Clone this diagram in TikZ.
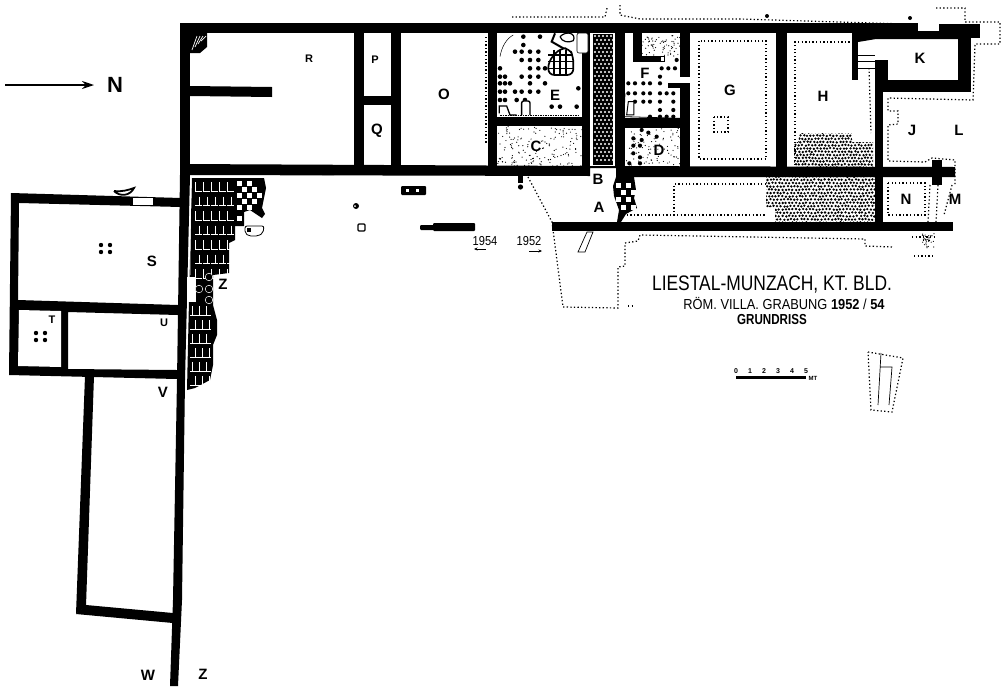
\documentclass[tikz,border=0pt]{standalone}
\usepackage{fontspec}
\setmainfont{Liberation Sans}
\usetikzlibrary{arrows.meta}
\begin{document}
\begin{tikzpicture}[
  x=1pt, y=-1pt,
  wall/.style={fill=black},
  dotline/.style={line width=1.2pt, dash pattern=on 1.3pt off 2.3pt},
  biglabel/.style={font=\bfseries\fontsize{15}{15}\selectfont, inner sep=0pt},
  smalllabel/.style={font=\bfseries\fontsize{11}{11}\selectfont, inner sep=0pt},
  titletext/.style={inner sep=0pt, transform shape}
]
\useasboundingbox (0,0) rectangle (1008,686);
\fill[white] (0,0) rectangle (1008,686);

% --- Stipple: rooms C, D, F ---
\pgfmathsetseed{17}
\begin{scope}
\clip (497,126) rectangle (583,168);
\foreach \n in {1,...,170} \fill ({497+86*rnd},{126+42*rnd}) circle[radius=0.6pt];
\end{scope}
\begin{scope}
\clip (625,128) rectangle (680,168);
\foreach \n in {1,...,90} \fill ({625+55*rnd},{128+40*rnd}) circle[radius=0.6pt];
\end{scope}
\begin{scope}
\clip (642,35) rectangle (680,56);
\foreach \n in {1,...,70} \fill ({642+38*rnd},{35+21*rnd}) circle[radius=0.6pt];
\end{scope}

% --- Pebble floors: H and below ---
\begin{scope}
\clip (794,142) -- (798,142) -- (800,133) -- (852,133) -- (852,142) -- (873,142) -- (873,167) -- (794,167) -- cycle;
\foreach \i in {0,...,25} \foreach \j in {0,...,11}
  \fill ({792+3.3*\i+1.6*mod(\j,2)+0.9*rnd},{132+3.2*\j+0.9*rnd}) circle[radius=1.3pt];
\end{scope}
\begin{scope}
\clip (766,177) -- (875,177) -- (875,222) -- (775,222) -- (775,207) -- (766,207) -- cycle;
\foreach \i in {0,...,33} \foreach \j in {0,...,14}
  \fill ({765+3.4*\i+1.7*mod(\j,2)+0.9*rnd},{176+3.3*\j+0.9*rnd}) circle[radius=1.3pt];
\end{scope}

% --- Walls: north wing ---
\fill[wall] (180,23) rectangle (918,33);
\fill[wall] (918,31) rectangle (939,33);
\fill[wall] (939,24) rectangle (980,38);
\fill[wall] (852,33) -- (958,33) -- (958,39) -- (876,39) -- (858,42) -- (852,42) -- cycle;
\fill[wall] (180,164) -- (590,166) -- (955,167) -- (955,177) -- (616,177) -- (616,168) -- (590,168) -- (590,176) -- (180,175) -- cycle;
\fill[wall] (180,23) rectangle (190,175);
\fill[wall] (190,86) -- (272,87) -- (272,97) -- (190,96) -- cycle;
\fill[wall] (354,33) rectangle (364,165);
\fill[wall] (364,96) rectangle (391,105);
\fill[wall] (391,33) rectangle (401,165);
\fill[wall] (488,33) rectangle (497,166);
\fill[wall] (497,117) rectangle (583,126);
\fill[wall] (582,33) rectangle (590,167);
\fill[wall] (615,33) rectangle (625,167);
\fill[wall] (625,118) rectangle (680,128);
\fill[wall] (633,33) rectangle (642,62);
\fill[wall] (633,56) rectangle (665,62);
\fill[wall] (680,33) rectangle (690,77);
\fill[wall] (680,83) rectangle (690,167);
\fill[wall] (668,83) rectangle (680,88);
\fill[wall] (776,33) rectangle (787,167);
\fill[wall] (852,33) rectangle (858,80);
\fill[wall] (875,60) rectangle (888,80);
\fill[wall] (875,60) rectangle (883,222);
\fill[wall] (875,80) rectangle (971,92);
\fill[wall] (958,33) rectangle (971,92);
\fill[wall] (552,222) rectangle (953,231);
\fill[wall] (932,160) rectangle (942,185);

% --- Walls: south wing ---
\fill[wall] (180,175) -- (190,175) -- (185,380) -- (182,600) -- (178,686) -- (170,686) -- (173,600) -- (177,380) -- cycle;
\fill[wall] (11,193) -- (181,198) -- (181,207) -- (19,203) -- (18,300) -- (178,305) -- (178,315) -- (68,312) -- (68,369) -- (177,370) -- (177,379) -- (9,375) -- cycle;
\fill[white] (19,310) -- (61,311) -- (61,367) -- (18,366) -- cycle;
\fill[wall] (85,376) -- (94,376) -- (86,606) -- (76,614) -- cycle;
\fill[wall] (86,605) -- (173,613) -- (173,623) -- (76,614) -- cycle;
\fill[white] (133,198) rectangle (153,205);

% --- Mosaic corridor ---
\fill[wall] (593,34) rectangle (613,165);
\foreach \i in {0,...,4} \foreach \j in {0,...,31}
  \fill[white] ({595+4*\i+2*mod(\j,2)},{36+4*\j}) circle[radius=1.1pt];

% --- Mosaic Z ---
\fill[wall] (192,178) -- (235,178) -- (235,240) -- (229,243) -- (229,273) -- (213,275) -- (213,305) -- (217,320) -- (217,335) -- (213,345) -- (213,365) -- (210,380) -- (195,388) -- (187,390) -- (189,300) -- cycle;
\draw[white, line width=0.5pt] (191,178) -- (190,275);
\foreach \j in {0,...,6}
  \foreach \i in {0,...,4} {
    \draw[white, line width=0.6pt] ({195+8*\i+4*mod(\j,2)},{182+14.5*\j}) -- ++(0,9);
    \draw[white, line width=0.6pt] ({195+8*\i},{191+14.5*\j}) -- ++(7,0);
  }
\foreach \j in {0,...,5}
  \foreach \i in {0,...,2} {
    \draw[white, line width=0.6pt] ({192+7*\i+3*mod(\j,2)},{306+14*\j}) -- ++(0,9);
    \draw[white, line width=0.6pt] ({190+7*\i},{315+14*\j}) -- ++(7,0);
  }
\fill[white] (187,277) rectangle (196,302);
\foreach \x/\y in {209/277,209/289,209/300,199/289}
  \filldraw[fill=black, draw=white, line width=0.5pt] (\x,\y) circle[radius=3.8pt];

% --- Checker floors ---
\fill[wall] (235,178) -- (264,178) -- (266,188) -- (262,208) -- (265,214) -- (262,218) -- (250,210) -- (244,212) -- (244,226) -- (235,226) -- cycle;
\foreach \x/\y in {237/181,247/181,242/187,252/187,237/193,247/193,257/193,242/199,252/199,237/205,247/205,237/216}
  \fill[white] (\x,\y) rectangle ++(5,5);
\fill[wall] (616,177) -- (634,177) -- (636,190) -- (634,198) -- (637,208) -- (626,214) -- (621,222) -- (617,222) -- (619,210) -- (614,196) -- (613,186) -- cycle;
\foreach \x/\y in {616/183,626/183,621/190,631/190,616/197,626/197,621/205,631/205}
  \fill[white] (\x,\y) rectangle ++(5,5);

% --- Floor dots: E ---
\begin{scope}[shift={(480,0)}, x=0.3333pt, y=-0.3333pt]
\foreach \x/\y in {130/110,180/110,130/135,105/155,125/155,150/155,175/155,125/180,150/180,175/180,
  60/205,150/205,175/205,195/205,60/230,75/230,125/230,150/230,175/230,60/250,75/250,90/250,150/250,195/250,
  60/275,75/275,105/275,125/275,150/275,175/275,60/300,75/300,110/300,135/300,215/320,240/320,290/320,295/265}
  \fill (\x,\y) circle[radius=2.3pt];
\draw[line width=0.5pt] (60,170) .. controls (65,140) and (80,115) .. (100,105);
\draw[line width=1.4pt, fill=white, rounded corners=2pt] (125,345) -- (125,303) -- (150,303) -- (150,345);
\draw[line width=1.3pt] (58,340) -- (58,318) -- (80,318) -- (90,345) -- (110,345);
\draw[line width=1pt, dash pattern=on 1.5pt off 1pt] (60,347) -- (300,347);
% --- Hypocaust: E ---
\draw[line width=1.7pt, rounded corners=6pt] (205,225) -- (205,185) -- (240,145) -- (268,145) -- (280,170) -- (280,225) -- cycle;
\foreach \n in {222,240,258} \draw[line width=1.2pt] (\n,150) -- (\n,225);
\foreach \n in {165,185,205} \draw[line width=1.2pt] (205,\n) -- (280,\n);
\draw[line width=2pt] (225,100) -- (215,125) -- (250,145);
\draw[line width=1.2pt] (240,110) .. controls (260,90) and (290,100) .. (280,122) .. controls (265,130) and (245,125) .. (240,110);
% --- Floor dots: F, D ---
\foreach \x/\y in {545/205,565/205,585/205,590/180,540/230,445/250,465/250,490/250,510/250,540/250,
  445/280,465/280,490/280,510/280,540/280,560/280,580/280,465/305,490/305,510/305,540/305,580/305,
  540/330,580/330,510/350,540/350,560/350,580/350}
  \fill (\x,\y) circle[radius=2.1pt];
\foreach \x/\y in {485/390,505/398,460/415,485/420,530/410,460/437,480/437,460/460,480/472,448/490,480/490}
  \fill (\x,\y) circle[radius=2.1pt];
\draw[line width=1pt, fill=white] (440,345) -- (445,305) -- (462,305) -- (462,345) -- cycle;
\draw[line width=0.8pt] (435,280) -- (432,350) -- (600,355);
\end{scope}
\filldraw[fill=white, draw=black, line width=0.6pt, rounded corners=2pt] (577,33) rectangle (588,53);
\fill[white] (661,57) rectangle (664,61);

% --- Dots: S, T ---
\foreach \x/\y in {101/245,110/245,101/252,110/252,36/333,45/333,36/340,45/340}
  \fill (\x,\y) circle[radius=2.2pt];

% --- Corner rubble and loose finds ---
\fill (190,33) -- (207,33) -- (207,47) -- (200,53) -- (190,53) -- cycle;
\foreach \n in {0,3,6,9}
  \draw[white, line width=0.7pt] (192+\n,50-\n) -- (197+\n,36);
\draw[line width=1.8pt] (114,191) .. controls (120,197) and (130,196) .. (134,188) .. controls (128,190) and (122,192) .. (114,191);
\fill (322,175) arc[start angle=180, end angle=360, x radius=6, y radius=5] -- cycle;
\fill (518,175) rectangle (523,183);
\fill (520.5,187) circle[radius=2.6pt];
\fill[rounded corners=1pt] (401,186) rectangle (426,195);
\fill[white] (406,189) rectangle (409,192);
\fill[white] (416,189) rectangle (419,192);
\fill (356,206) circle[radius=3pt];
\fill[white] (355,206) circle[radius=1pt];
\draw[line width=1.2pt, rounded corners=1pt] (358,224) rectangle (365,231);
\fill[rounded corners=1pt] (433,223) rectangle (475,231);
\fill[rounded corners=1pt] (420,225) rectangle (434,230);
\draw[line width=0.8pt, rounded corners=2pt] (245,226) -- (264,226) -- (263,233) -- (258,236) -- (249,236) -- (245,233) -- cycle;
\fill (247,228) rectangle (251,232);
\draw[line width=0.7pt] (587,232) -- (593,232) -- (585,252) -- (578,252) -- cycle;

% --- Dotted outlines ---
\draw[dotline] (486,37) -- (486,143);
\draw[dotline] (528,177) -- (552,222) -- (563,307) -- (618,308) -- (618,267) -- (625,266) -- (625,243) -- (638,241) -- (640,235) -- (865,239) -- (865,246) -- (893,247);
\draw[dotline] (620,5) -- (620,15) -- (640,19) -- (740,19) -- (905,24);
\draw[dotline] (512,17) -- (605,17) -- (607,8);
\draw[dotline] (936,8) -- (965,8) -- (965,22) -- (1000,22) -- (1000,44) -- (975,44) -- (973,100) -- (888,98) -- (888,111) -- (898,111) -- (898,124) -- (888,125) -- (888,161) -- (925,162) -- (932,158) -- (955,160) -- (955,185);
\draw[dotline] (699,41) rectangle (766,159);
\draw[dotline] (714,117) rectangle (728,132);
\draw[dotline] (795,165) -- (795,42) -- (852,42);
\draw[dotline] (869,68) -- (871,133);
\draw[dotline] (766,184) -- (674,184) -- (674,215);
\draw[dotline] (623,215) -- (766,215);
\draw[dotline] (888,183) rectangle (925,215);
\draw[dotline] (930,185) -- (928,222);
\draw[dotline] (938,185) -- (936,222);
\draw[dotline] (952,185) -- (944,215);
\draw[dotline] (912,237) -- (935,237);
\draw[dotline] (914,256) -- (934,256);
\draw[dotline] (628,306) -- (635,306);
\foreach \x/\y in {767/16,910/18} \fill (\x,\y) circle[radius=2pt];
\foreach \n in {1,...,35} \fill ({922+12*rnd},{233+15*rnd}) circle[radius=0.6pt];

% --- Stairs ---
\fill[white] (858,55) rectangle (875,68);
\foreach \n in {55,61,68} \draw[line width=1pt] (858,\n) -- (875,\n);

% --- Key plan ---
\draw[dotline] (868,352) -- (903,358) -- (892,412) -- (871,410) -- cycle;
\draw[line width=0.7pt] (881,353) -- (878,405);
\draw[line width=0.7pt] (880,367) -- (892,367) -- (889,405);

% --- North arrow ---
\coordinate (Ntail) at (5,85);
\node[font=\bfseries\fontsize{22}{22}\selectfont, inner sep=0pt] (Nlabel) at (115,85) {N};
\draw[line width=1.3pt, -{Stealth[length=12pt,width=8pt]}] (Ntail) -- (94,85);

% --- Room labels ---
\node[smalllabel] (roomR) at (309,59) {R};
\node[smalllabel] (roomP) at (375,60) {P};
\node[biglabel] (roomQ) at (377,131) {Q};
\node[biglabel] (roomO) at (444,94) {O};
\node[biglabel] (roomE) at (555,95) {E};
\node[biglabel] (roomC) at (536,146) {C};
\node[biglabel] (roomF) at (645,73) {F};
\node[biglabel] (roomD) at (659,150) {D};
\node[biglabel] (roomG) at (730,90) {G};
\node[biglabel] (roomH) at (823,96) {H};
\node[biglabel] (roomK) at (920,58) {K};
\node[biglabel] (roomJ) at (912,130) {J};
\node[biglabel] (roomL) at (959,130) {L};
\node[biglabel] (roomN) at (906,199) {N};
\node[biglabel] (roomM) at (955,199) {M};
\node[biglabel] (roomB) at (598,179) {B};
\node[biglabel] (roomA) at (599,207) {A};
\node[biglabel] (roomS) at (152,261) {S};
\node[smalllabel] (roomT) at (52,320) {T};
\node[smalllabel] (roomU) at (164,323) {U};
\node[biglabel] (roomV) at (163,392) {V};
\node[biglabel] (roomW) at (148,675) {W};
\node[biglabel] (roomZb) at (203,674) {Z};
\node[biglabel] (roomZa) at (223,284) {Z};

% --- Year marks ---
\node[inner sep=0pt, font=\fontsize{13}{13}\selectfont, xscale=.85, transform shape] (yearA) at (485,241) {1954};
\node[inner sep=0pt, font=\fontsize{13}{13}\selectfont, xscale=.85, transform shape] (yearB) at (529,241) {1952};
\draw[line width=0.8pt, {Stealth[length=3.5pt,width=3pt]}-] (474,249) -- (486,249);
\draw[line width=0.8pt, -{Stealth[length=3.5pt,width=3pt]}] (529,251) -- (542,251);

% --- Title ---
\node[titletext, font=\fontsize{21}{21}\selectfont, xscale=.83] (title) at (772,285) {LIESTAL-MUNZACH, KT. BLD.};
\node[titletext, font=\fontsize{14.5}{15}\selectfont, xscale=.885] (subtitle) at (784,303) {RÖM. VILLA. GRABUNG \textbf{1952} / \textbf{54}};
\node[titletext, font=\bfseries\fontsize{14.5}{15}\selectfont, xscale=.8] (plantitle) at (772,320) {GRUNDRISS};

% --- Scale bar ---
\fill (736,375.5) rectangle (806,378.5);
\foreach \n [count=\k from 0] in {736,750,764,778,792,806}
  \node[inner sep=0pt, font=\bfseries\fontsize{7}{7}\selectfont] (tick\k) at (\n,371) {\k};
\node[inner sep=0pt, font=\bfseries\fontsize{6}{6}\selectfont] (metre) at (813,378) {MT};

\end{tikzpicture}
\end{document}
